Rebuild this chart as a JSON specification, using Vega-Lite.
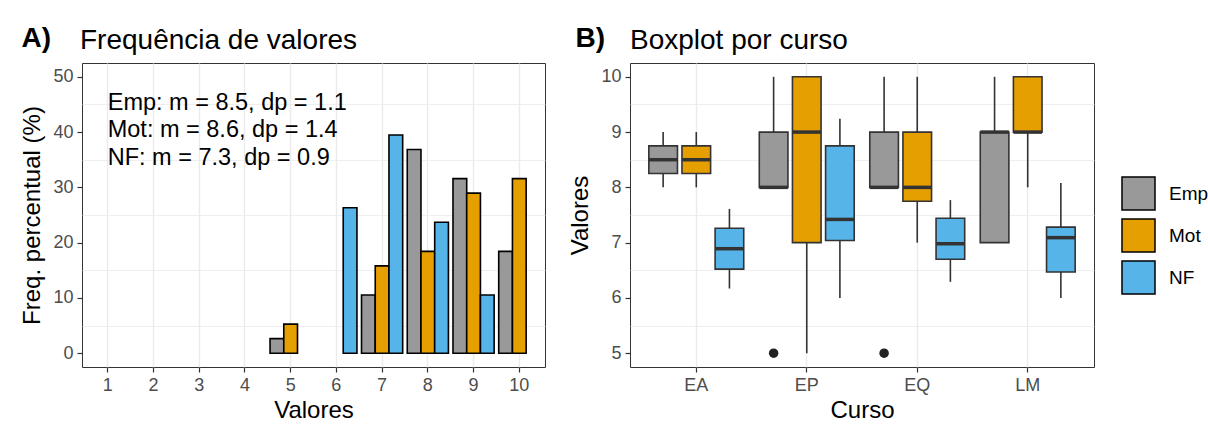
{
  "$schema": "https://vega.github.io/schema/vega-lite/v6.json",
  "background": "white",
  "padding": {"left": 20, "top": 24, "right": 0, "bottom": 0},
  "datasets": {
    "hist": [
      {"valor": 5, "grupo": "Emp", "freq": 2.63},
      {"valor": 7, "grupo": "Emp", "freq": 10.53},
      {"valor": 8, "grupo": "Emp", "freq": 36.84},
      {"valor": 9, "grupo": "Emp", "freq": 31.58},
      {"valor": 10, "grupo": "Emp", "freq": 18.42},
      {"valor": 5, "grupo": "Mot", "freq": 5.26},
      {"valor": 7, "grupo": "Mot", "freq": 15.79},
      {"valor": 8, "grupo": "Mot", "freq": 18.42},
      {"valor": 9, "grupo": "Mot", "freq": 28.95},
      {"valor": 10, "grupo": "Mot", "freq": 31.58},
      {"valor": 6, "grupo": "NF", "freq": 26.32},
      {"valor": 7, "grupo": "NF", "freq": 39.47},
      {"valor": 8, "grupo": "NF", "freq": 23.68},
      {"valor": 9, "grupo": "NF", "freq": 10.53}
    ],
    "box": [
      {"curso": "EA", "grupo": "Emp", "lower": 8.0, "q1": 8.25, "median": 8.5, "q3": 8.75, "upper": 9.0},
      {"curso": "EA", "grupo": "Mot", "lower": 8.0, "q1": 8.25, "median": 8.5, "q3": 8.75, "upper": 9.0},
      {"curso": "EA", "grupo": "NF", "lower": 6.17, "q1": 6.52, "median": 6.89, "q3": 7.26, "upper": 7.61},
      {"curso": "EP", "grupo": "Emp", "lower": 8.0, "q1": 8.0, "median": 8.0, "q3": 9.0, "upper": 10.0},
      {"curso": "EP", "grupo": "Mot", "lower": 5.0, "q1": 7.0, "median": 9.0, "q3": 10.0, "upper": 10.0},
      {"curso": "EP", "grupo": "NF", "lower": 6.0, "q1": 7.04, "median": 7.42, "q3": 8.75, "upper": 9.24},
      {"curso": "EQ", "grupo": "Emp", "lower": 8.0, "q1": 8.0, "median": 8.0, "q3": 9.0, "upper": 10.0},
      {"curso": "EQ", "grupo": "Mot", "lower": 7.0, "q1": 7.75, "median": 8.0, "q3": 9.0, "upper": 10.0},
      {"curso": "EQ", "grupo": "NF", "lower": 6.29, "q1": 6.7, "median": 6.98, "q3": 7.44, "upper": 7.77},
      {"curso": "LM", "grupo": "Emp", "lower": 7.0, "q1": 7.0, "median": 9.0, "q3": 9.0, "upper": 10.0},
      {"curso": "LM", "grupo": "Mot", "lower": 8.0, "q1": 9.0, "median": 9.0, "q3": 10.0, "upper": 10.0},
      {"curso": "LM", "grupo": "NF", "lower": 6.0, "q1": 6.47, "median": 7.09, "q3": 7.28, "upper": 8.08}
    ],
    "out": [
      {"curso": "EP", "grupo": "Emp", "valor": 5},
      {"curso": "EQ", "grupo": "Emp", "valor": 5}
    ],
    "nota": [
      {"linhas": ["Emp: m = 8.5, dp = 1.1", "Mot: m = 8.6, dp = 1.4", "NF: m = 7.3, dp = 0.9"]}
    ]
  },
  "resolve": {"scale": {"xOffset": "independent", "fill": "independent", "x": "independent", "y": "independent"}},
  "hconcat": [
    {
      "title": {"text": "A)", "anchor": "start", "fontSize": 28, "fontWeight": "bold", "offset": -26, "color": "black", "dx": 1},
      "vconcat": [
        {
          "width": 463,
          "height": 304,
          "title": {"text": "Frequência de valores", "anchor": "start", "frame": "group", "fontSize": 28, "fontWeight": "normal", "offset": 8, "color": "black", "dx": -2},
          "encoding": {
            "x": {"field": "valor", "type": "ordinal",
              "scale": {"domain": [1,2,3,4,5,6,7,8,9,10], "paddingInner": 0.1, "paddingOuter": 0.112},
              "axis": {"title": "Valores", "labelAngle": 0, "bandPosition": 0.5}},
            "xOffset": {"field": "grupo", "type": "nominal", "scale": {"domain": ["Emp", "Mot", "NF"], "paddingInner": 0, "paddingOuter": 0}}
          },
          "layer": [
            {
              "data": {"name": "hist"},
              "mark": {"type": "bar", "opacity": 0},
              "encoding": {
                "y": {"field": "freq", "type": "quantitative",
                  "axis": {"values": [5, 15, 25, 35, 45], "grid": true, "gridWidth": 0.8, "labels": false, "ticks": false, "domain": false, "title": null, "orient": "left"}}
              }
            },
            {
              "data": {"name": "hist"},
              "mark": {"type": "bar", "stroke": "black", "strokeWidth": 1.6},
              "encoding": {
                "y": {"field": "freq", "type": "quantitative",
                  "scale": {"domain": [-2.5, 52.5], "nice": false, "zero": false},
                  "axis": {"title": "Freq. percentual (%)", "values": [0, 10, 20, 30, 40, 50], "orient": "left"}},
                "y2": {"datum": 0},
                "fill": {"field": "grupo", "type": "nominal",
                  "scale": {"domain": ["Emp", "Mot", "NF"], "range": ["#999999", "#E69F00", "#56B4E9"]},
                  "legend": null}
              }
            },
            {
              "data": {"name": "nota"},
              "mark": {"type": "text", "align": "left", "baseline": "alphabetic", "fontSize": 23.5, "lineHeight": 27.5, "color": "black"},
              "encoding": {
                "text": {"field": "linhas"},
                "x": {"datum": 1},
                "xOffset": null,
                "y": {"datum": 44, "axis": null}
              }
            }
          ],
          "resolve": {"axis": {"y": "independent"}}
        }
      ]
    },
    {
      "title": {"text": "B)", "anchor": "start", "fontSize": 28, "fontWeight": "bold", "offset": -26, "color": "black", "dx": 7},
      "vconcat": [
        {
          "width": 464,
          "height": 304,
          "title": {"text": "Boxplot por curso", "anchor": "start", "frame": "group", "fontSize": 28, "fontWeight": "normal", "offset": 8, "color": "black"},
          "encoding": {
            "x": {"field": "curso", "type": "nominal",
              "scale": {"domain": ["EA", "EP", "EQ", "LM"], "paddingInner": 0.1, "paddingOuter": 0.15},
              "axis": {"title": "Curso", "labelAngle": 0, "bandPosition": 0.5}},
            "xOffset": {"field": "grupo", "type": "nominal", "scale": {"domain": ["Emp", "Mot", "NF"], "paddingInner": 0.136, "paddingOuter": 0.068}}
          },
          "layer": [
            {
              "data": {"name": "box"},
              "mark": {"type": "rule", "opacity": 0},
              "encoding": {
                "y": {"field": "lower", "type": "quantitative",
                  "axis": {"values": [5.5, 6.5, 7.5, 8.5, 9.5], "grid": true, "gridWidth": 0.8, "labels": false, "ticks": false, "domain": false, "title": null, "orient": "left"}}
              }
            },
            {
              "data": {"name": "box"},
              "mark": {"type": "rule", "color": "#333333", "strokeWidth": 1.6},
              "encoding": {
                "y": {"field": "lower", "type": "quantitative",
                  "scale": {"domain": [4.75, 10.25], "nice": false, "zero": false},
                  "axis": {"title": "Valores", "values": [5, 6, 7, 8, 9, 10], "orient": "left"}},
                "y2": {"field": "upper"}
              }
            },
            {
              "data": {"name": "box"},
              "mark": {"type": "bar", "stroke": "#333333", "strokeWidth": 1.6},
              "encoding": {
                "y": {"field": "q1", "type": "quantitative", "axis": null},
                "y2": {"field": "q3"},
                "fill": {"field": "grupo", "type": "nominal", "title": null,
                  "scale": {"domain": ["Emp", "Mot", "NF"], "range": ["#999999", "#E69F00", "#56B4E9"]},
                  "legend": {"orient": "none", "legendX": 491, "legendY": 113, "symbolType": "square", "symbolSize": 1089,
                    "symbolStrokeColor": "black", "symbolStrokeWidth": 1.5, "symbolOpacity": 1, "labelFontSize": 19, "labelColor": "black",
                    "labelOffset": 13, "rowPadding": 3, "padding": 0}}
              }
            },
            {
              "data": {"name": "box"},
              "mark": {"type": "tick", "orient": "horizontal", "color": "#333333", "thickness": 3.5, "size": 28.5, "opacity": 1},
              "encoding": {
                "y": {"field": "median", "type": "quantitative", "axis": null}
              }
            },
            {
              "data": {"name": "out"},
              "mark": {"type": "point", "filled": true, "color": "#222222", "size": 90, "opacity": 1},
              "encoding": {
                "y": {"field": "valor", "type": "quantitative", "axis": null}
              }
            }
          ],
          "resolve": {"axis": {"y": "independent"}}
        }
      ]
    }
  ],
  "spacing": 22,
  "config": {
    "font": "Liberation Sans",
    "view": {"stroke": "#333333", "strokeWidth": 1},
    "axis": {
      "domain": false,
      "grid": true,
      "gridColor": "#EBEBEB",
      "gridWidth": 1.4,
      "tickColor": "#333333",
      "tickSize": 5,
      "tickWidth": 1.2,
      "labelColor": "#4D4D4D",
      "labelFontSize": 18,
      "labelPadding": 4,
      "titleFontSize": 24,
      "titleFontWeight": "normal",
      "titleColor": "black",
      "titlePadding": 8
    },
    "axisX": {"titlePadding": 4}
  }
}
